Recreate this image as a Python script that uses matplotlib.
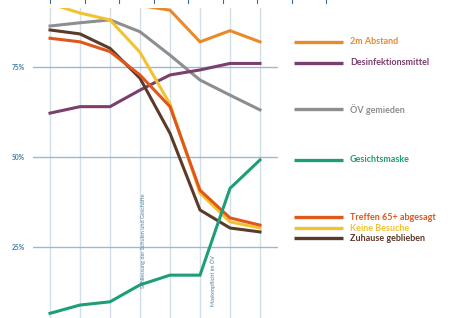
import matplotlib
matplotlib.use("Agg")
import matplotlib.pyplot as plt

# ---- data (share of respondents, %) ----
periods = [0, 1, 2, 3, 4, 5, 6, 7]
abstand = [94.0, 95.0, 94.5, 92.0, 90.7, 81.9, 85.0, 81.9]
desinfektion = [62.1, 63.9, 63.9, 68.5, 72.7, 74.1, 75.9, 75.9]
oev = [86.3, 87.2, 88.0, 84.7, 78.2, 71.3, 67.1, 63.0]
maske = [6.5, 8.8, 9.7, 14.4, 17.1, 17.1, 41.2, 49.1]
treffen = [82.9, 81.9, 79.2, 72.7, 63.9, 40.7, 33.0, 31.0]
besuche = [92.5, 89.9, 88.0, 79.0, 64.6, 39.9, 31.9, 30.2]
zuhause = [85.2, 84.1, 80.1, 71.8, 56.5, 35.2, 30.2, 29.1]

series_names = ["2m Abstand", "Desinfektionsmittel", "ÖV gemieden", "Gesichtsmaske",
                "Treffen 65+ abgesagt", "Keine Besuche", "Zuhause geblieben"]
series_values = [abstand, desinfektion, oev, maske, treffen, besuche, zuhause]
series_colors = ["#E8892A", "#7B3F6E", "#8E8E8E", "#1E9E78",
                 "#E0571C", "#F2C230", "#5C3A28"]
legend_y = [41.7, 62.7, 109.3, 160.0, 217.3, 228.3, 238.3]  # pixel rows

y_ticks = [25, 50, 75]
y_tick_labels = ["25%", "50%", "75%"]

annotations = [(3, "Schliessung der Schulen und Geschäfte"),
               (5, "Maskenpflicht im ÖV")]

W, H = 450, 318
fig = plt.figure(figsize=(W / 100, H / 100), dpi=100)
fig.patch.set_facecolor("white")

ax = fig.add_axes([33 / W, 0, (278 - 33) / W, (H - 8) / H])
ax.set_xlim(-0.567, 7.6)
ax.set_ylim(5.2, 91.3)
for s in ax.spines.values():
    s.set_visible(False)

# grid
for p in periods:
    ax.axvline(p, color="#D3DFE6", lw=1.0, zorder=0)
for t in y_ticks:
    ax.axhline(t, color="#9BBBCD", lw=1.0, zorder=0)

ax.set_xticks([])
ax.set_yticks(y_ticks)
ax.set_yticklabels(y_tick_labels, fontsize=4.8, color="#3F7FA8",
                   fontweight="bold", family="Lato")
ax.tick_params(axis="y", length=0, pad=6)

# annotations
offsets = [0.13, 0.43]
tops = [39.9, 22.7]
for (p, txt), off, top in zip(annotations, offsets, tops):
    ax.text(p + off, top, txt, rotation=90, ha="center", va="top",
            fontsize=4, color="#4C7F9E", family="Lato", clip_on=False)

order = [2, 1, 0, 6, 5, 4, 3]
for i in order:
    ax.plot(periods, series_values[i], color=series_colors[i], lw=2.2,
            solid_joinstyle="miter", zorder=3)

# legend
lax = fig.add_axes([0, 0, 1, 1])
lax.set_xlim(0, W)
lax.set_ylim(H, 0)
lax.axis("off")
lax.patch.set_alpha(0)
for name, col, yy in zip(series_names, series_colors, legend_y):
    lax.plot([294, 343], [yy, yy], color=col, lw=2.4, solid_capstyle="butt")
    lax.text(350, yy, name, color=col, fontsize=6.5, fontweight="bold",
             family="Lato", va="center", ha="left")

# decorative ticks at the top edge
tick_x = [50 + 34.5 * i for i in range(9)]
for tx in tick_x:
    lax.plot([tx, tx], [0, 3], color="#3A6A95", lw=0.8)

fig.savefig("out.png", dpi=100, facecolor="white")
